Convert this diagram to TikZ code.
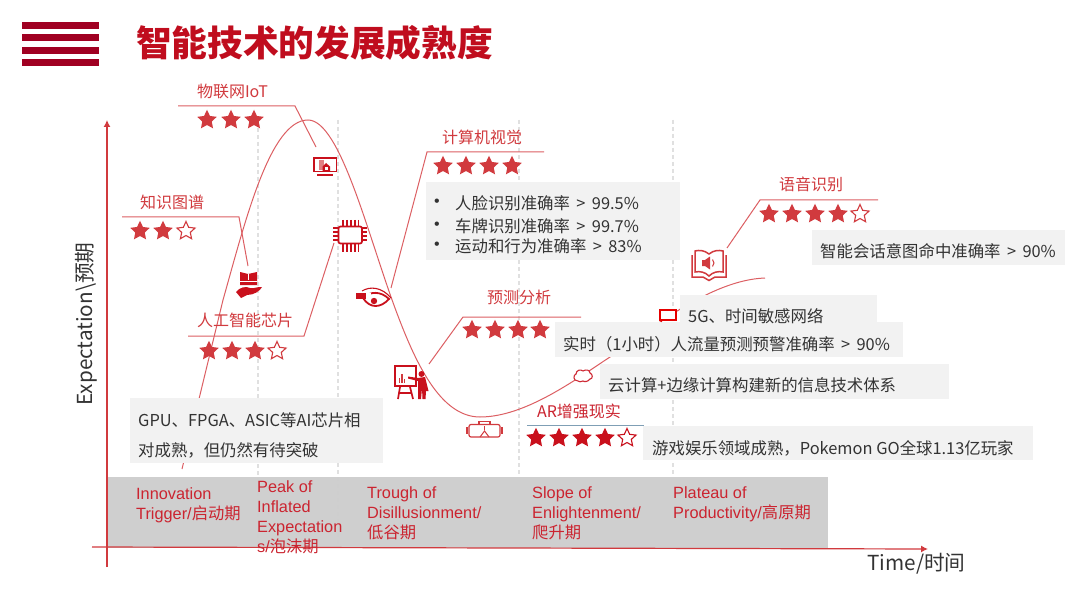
\documentclass[tikz,border=0pt]{standalone}
\usepackage{fontspec}
\setmainfont{Noto Sans CJK SC}
\newfontfamily\latf{Liberation Sans}
\usetikzlibrary{shapes.geometric,arrows.meta}
\definecolor{barred}{HTML}{A00022}
\definecolor{titlered}{HTML}{C00D1E}
\definecolor{softred}{HTML}{D13A3E}
\definecolor{linered}{HTML}{DC5F63}
\definecolor{deepred}{HTML}{C9101C}
\definecolor{bandtext}{HTML}{CB2430}
\definecolor{boxgray}{HTML}{F2F2F2}
\definecolor{bandgray}{HTML}{CECECE}
\definecolor{ink}{HTML}{333333}
\definecolor{slateline}{HTML}{7F9FB5}
\tikzset{
  sfull/.style={star,star points=5,star point ratio=2.05,minimum size=20.5pt,inner sep=0pt,fill=softred,draw=none},
  sopen/.style={star,star points=5,star point ratio=2.1,minimum size=19pt,inner sep=0pt,draw=softred,line width=1.1pt,fill=white},
  dfull/.style={sfull,fill=deepred},
  dopen/.style={sopen,draw=deepred},
  lbl/.style={text=softred,font=\fontsize{16}{18}\selectfont,inner sep=0pt},
  leader/.style={draw=linered,line width=1pt},
  hump/.style={draw=linered,line width=1pt},
  guide/.style={draw=black!12,line width=1.2pt,dash pattern=on 4pt off 3pt},
  panel/.style={fill=boxgray,draw=none},
  info/.style={text=ink,font=\fontsize{16.4}{18}\selectfont,inner sep=0pt,anchor=west},
  phase/.style={text=bandtext,font=\fontsize{16.3}{20}\selectfont,inner sep=0pt,anchor=north west,align=left},
  axisline/.style={draw=softred,line width=1.2pt},
  iconl/.style={draw=deepred,line width=1.7pt},
  pinl/.style={draw=deepred,line width=1.3pt},
  softl/.style={draw=softred,line width=1.2pt}
}
\begin{document}
\begin{tikzpicture}[x=1pt,y=-1pt]
\useasboundingbox (0,0) rectangle (1080,599);
\fill[white] (0,0) rectangle (1080,599);
% menu bars
\foreach \yy in {22,34,47,59}{\fill[barred] (22,\yy) rectangle (99,\yy+7);}
\node[text=titlered,font=\fontsize{35.7}{40}\selectfont\bfseries,inner sep=0pt] (title) at (314.5,43) {智能技术的发展成熟度};
% guides
\coordinate (g1a) at (258,128); \coordinate (g1b) at (258,545);
\coordinate (g2a) at (338,120); \coordinate (g2b) at (338,545);
\coordinate (g3a) at (519,120); \coordinate (g3b) at (519,477);
\coordinate (g4a) at (673,120); \coordinate (g4b) at (673,477);
\draw[guide] (g1a)--(g1b); \draw[guide] (g2a)--(g2b); \draw[guide] (g3a)--(g3b); \draw[guide] (g4a)--(g4b);
% hype curve
\draw[hump] (182,469) -- (223,300)
  .. controls (245,222) and (270,120) .. (308,120)
  .. controls (340,120) and (368,235) .. (395,308)
  .. controls (415,362) and (440,417) .. (480,417)
  .. controls (525,417) and (575,380) .. (610,357)
  .. controls (650,330) and (710,280) .. (765,278);
% band
\fill[bandgray,opacity=.96] (107,477) rectangle (828,548);
% axes
\coordinate (oy) at (107,567); \coordinate (ty) at (107,120);
\coordinate (ox) at (92,547); \coordinate (tx) at (928,549);
\draw[axisline,-{Latex[length=7pt,width=7pt]}] (oy)--(ty);
\draw[axisline,-{Latex[length=7pt,width=7pt]}] (ox)--(tx);
\node[rotate=90,text=ink,font=\fontsize{20.7}{22}\selectfont,inner sep=0pt] (ylab) at (86,324) {Expectation\textbackslash 预期};
\node[text=ink,font=\fontsize{20.7}{22}\selectfont,inner sep=0pt] (xlab) at (916.5,564) {Time/时间};
% panels
\fill[panel] (130,398) rectangle (383,463);
\fill[panel] (426,182) rectangle (680,260);
\fill[panel] (812,230) rectangle (1065,265);
\fill[panel] (680,295) rectangle (877,330);
\fill[panel] (555,322) rectangle (903,357);
\fill[panel] (600,364) rectangle (949,399);
\fill[panel] (643,426) rectangle (1033,460);
% info text
\node[info] (t1a) at (138,420) {GPU、FPGA、ASIC等AI芯片相};
\node[info] (t1b) at (138,450) {对成熟，但仍然有待突破};
\node[info,font=\latf\fontsize{16}{18}\selectfont] (b1) at (434,203) {•};
\node[info,font=\latf\fontsize{16}{18}\selectfont] (b2) at (434,226) {•};
\node[info,font=\latf\fontsize{16}{18}\selectfont] (b3) at (434,246) {•};
\node[info] (t2a) at (455,203) {人脸识别准确率 \,>\, 99.5\%};
\node[info] (t2b) at (455,226) {车牌识别准确率 \,>\, 99.7\%};
\node[info] (t2c) at (455,246) {运动和行为准确率 \,>\, 83\%};
\node[info] (t3) at (820,251) {智能会话意图命中准确率 \,>\, 90\%};
\node[info] (t4) at (688,316) {5G、时间敏感网络};
\node[info] (t5) at (563,344) {实时（1小时）人流量预测预警准确率 \,>\, 90\%};
\node[info] (t6) at (608,385) {云计算+边缘计算构建新的信息技术体系};
\node[info] (t7) at (652,448) {游戏娱乐领域成熟，Pokemon GO全球1.13亿玩家};
% labels
\node[lbl] (lIot) at (232.5,91) {物联网IoT};
\node[lbl] (lKg) at (172,202) {知识图谱};
\node[lbl] (lChip) at (245,320) {人工智能芯片};
\node[lbl] (lCv) at (482,137) {计算机视觉};
\node[lbl] (lPred) at (519,297) {预测分析};
\node[lbl,text=bandtext] (lAr) at (579,411) {AR增强现实};
\node[lbl] (lVoice) at (811,184) {语音识别};
% leaders
\coordinate (a1) at (178,106); \coordinate (a2) at (295,106); \coordinate (a3) at (316,147);
\draw[leader] (a1)--(a2)--(a3);
\coordinate (b1c) at (122,217); \coordinate (b2c) at (239,217); \coordinate (b3c) at (248,266);
\draw[leader] (b1c)--(b2c)--(b3c);
\coordinate (c1) at (188,336); \coordinate (c2) at (304,336); \coordinate (c3) at (334,243);
\draw[leader] (c1)--(c2)--(c3);
\coordinate (d1) at (544,152); \coordinate (d2) at (427,152); \coordinate (d3) at (391,288);
\draw[leader] (d1)--(d2)--(d3);
\coordinate (e1) at (581,317); \coordinate (e2) at (463,317); \coordinate (e3) at (429,364);
\draw[leader] (e1)--(e2)--(e3);
\coordinate (f1) at (527,425); \coordinate (f2) at (644,425);
\draw[draw=slateline,line width=1pt] (f1)--(f2);
\coordinate (h1) at (878,200); \coordinate (h2) at (760,200); \coordinate (h3) at (727,248);
\draw[leader] (h1)--(h2)--(h3);
% stars
\foreach \xx in {207,231,254}{\node[sfull] at (\xx,120) {};}
\foreach \xx in {140,163}{\node[sfull] at (\xx,231) {};}
\node[sopen] at (186,231) {};
\foreach \xx in {209,232,255}{\node[sfull] at (\xx,351) {};}
\node[sopen] at (277,351) {};
\foreach \xx in {443,466,489,512}{\node[sfull] at (\xx,166) {};}
\foreach \xx in {472,495,518,540}{\node[sfull] at (\xx,330) {};}
\foreach \xx in {536,559,582,605}{\node[dfull] at (\xx,438) {};}
\node[dopen] at (627,438) {};
\foreach \xx in {769,792,815,838}{\node[sfull] at (\xx,214) {};}
\node[sopen] at (860,214) {};
% phase texts
\node[phase] (p1) at (136,487) {{\latf Innovation}\\{\latf Trigger/}启动期};
\node[phase] (p2) at (257,480) {{\latf Peak of}\\{\latf Inflated}\\{\latf Expectation}\\{\latf s/}泡沫期};
\node[phase] (p3) at (367,486) {{\latf Trough of}\\{\latf Disillusionment/}\\低谷期};
\node[phase] (p4) at (532,486) {{\latf Slope of}\\{\latf Enlightenment/}\\爬升期};
\node[phase] (p5) at (673,486) {{\latf Plateau of}\\{\latf Productivity/}高原期};
% monitor icon
\draw[iconl] (314,158) rectangle (336.5,171.5);
\fill[deepred] (317,174.3) rectangle (333,176);
\fill[softred!65] (319,160) rectangle (324,170);
\fill[deepred] (326,163) -- (330,166.5) -- (330,171) -- (322.5,171) -- (322.5,166.5) -- cycle;
\fill[white] (325,167.5) rectangle (327.5,170);
% chip icon
\draw[iconl,fill=white,rounded corners=2pt] (338.5,226.5) rectangle (362,243.5);
\foreach \xx in {343,347,351,355,358.5}{
  \draw[pinl] (\xx,220) -- (\xx,226);
  \draw[pinl] (\xx,244) -- (\xx,251.5);}
\foreach \yy in {228,232,236,240}{
  \draw[pinl] (333,\yy) -- (338,\yy);
  \draw[pinl] (362,\yy) -- (367,\yy);}
% eye icon
\draw[draw=deepred,line width=1.1pt] (362,291) .. controls (370,286) and (382,287) .. (391,298);
\draw[draw=deepred,line width=1.8pt] (363,298) .. controls (370,291) and (381,291) .. (389,299) .. controls (381,308) and (370,309) .. (363,298) -- cycle;
\fill[deepred] (374,301) circle (3.2pt);
\fill[deepred] (356,293) rectangle (366,299);
\fill[white] (366,292.5) rectangle (371,297.5);
% presenter icon
\draw[iconl] (395,366) rectangle (416,386);
\draw[iconl] (400,387) -- (398,399); \draw[iconl] (410,387) -- (413,399); \draw[draw=deepred,line width=1.2pt] (399,393) -- (412,393);
\foreach \xx/\yy in {399.5/378,402/374,404.5/379}{\draw[draw=softred,line width=1.1pt] (\xx,383) -- (\xx,\yy);}
\fill[deepred] (421.5,374) circle (3pt);
\fill[deepred] (408,376.5) -- (418,378) -- (425,377) -- (428.5,391) -- (426,391) -- (425.5,399) -- (422.5,399) -- (422,388) -- (421,399) -- (418,399) -- (418,381) -- (408,378.5) -- cycle;
% VR icon
\draw[softl,rounded corners=2pt] (469,424.5) rectangle (500,437);
\draw[softl] (479,424) -- (479,421.5) -- (490,421.5) -- (490,424);
\draw[softl,line width=1.6pt] (467,427) -- (467,434); \draw[softl,line width=1.6pt] (502,427) -- (502,434);
\draw[softl,line width=1pt] (480,437) -- (484.5,431) -- (489,437);
\draw[softl,line width=.8pt] (484.5,426) -- (484.5,430);
% cloud icon
\draw[draw=deepred!90,fill=white,line width=1.1pt] (578,381) .. controls (573,381) and (573,375) .. (576,374) .. controls (576,370) and (581,369) .. (583,371) .. controls (586,369) and (590,370) .. (590,373) .. controls (593,374) and (593,379) .. (590,379) .. controls (588,382) and (584,382) .. (583,381) .. controls (581,382) and (579,382) .. (578,381) -- cycle;
% 5G icon
\draw[draw=red!90!black,fill=white,line width=2pt] (660,309.5) rectangle (676,319.5);
\draw[draw=red!90!black,line width=1pt] (662,320) -- (661,322);
% book speaker icon
\draw[softl,line width=1.5pt] (709,254) .. controls (704,250) and (699,250) .. (695,251) -- (695,272) .. controls (700,271) and (705,272) .. (709,276) .. controls (713,272) and (718,271) .. (723,272) -- (723,251) .. controls (719,250) and (714,250) .. (709,254) -- cycle;
\draw[softl,line width=1.5pt] (692,255) -- (692,277) -- (703,277) -- (709,280.5) -- (715,277) -- (726,277) -- (726,255);
\fill[softred] (702,260) -- (705,260) -- (710,256.5) -- (710,269.5) -- (705,266) -- (702,266) -- cycle;
\draw[softl,line width=1pt] (712.5,259.5) .. controls (714.5,261.5) and (714.5,264.5) .. (712.5,266.5);
% book hand icon
\fill[deepred] (240,272) -- (248,274) -- (257,272) -- (257,285) -- (240,285) -- cycle;
\draw[draw=white,line width=.7pt] (248.5,274) -- (248.5,280);
\draw[draw=white,line width=.7pt] (240,281.5) -- (257,281.5);
\fill[deepred] (236,292) .. controls (240,287) and (246,286) .. (250,288) -- (254,288) .. controls (257,288) and (260,286) .. (262,287) .. controls (260,291) and (254,295) .. (247,295) -- (241,298) -- cycle;
\end{tikzpicture}
\end{document}
